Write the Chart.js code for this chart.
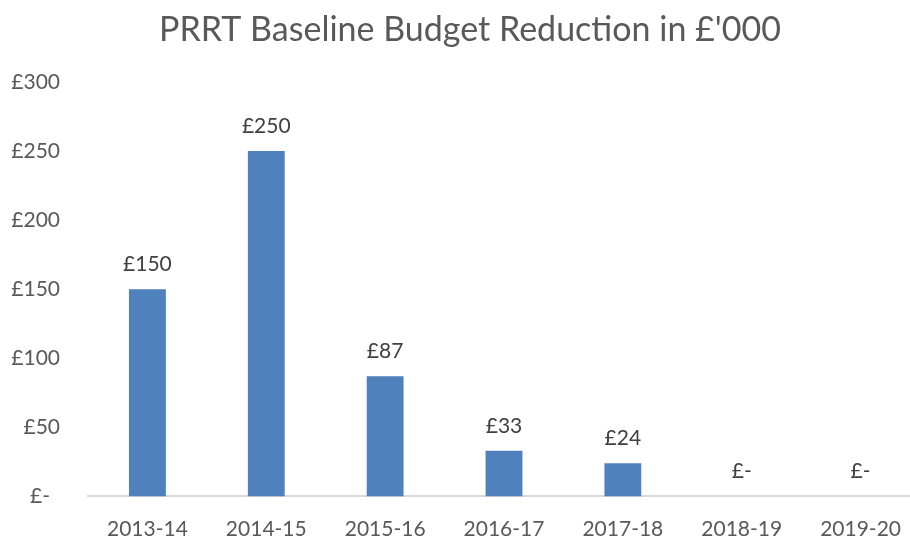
<!DOCTYPE html>
<html>
<head>
<meta charset="utf-8">
<script src="https://cdn.jsdelivr.net/npm/chart.js@4.4.0/dist/chart.umd.min.js"></script>
<style>
  html, body { margin: 0; padding: 0; background: #fff; overflow: hidden; }
  #wrap { width: 940px; height: 537px; }
</style>
</head>
<body>
<div id="wrap"><canvas id="chartContainer" width="940" height="537"></canvas></div>
<script>
const years = ['2013-14', '2014-15', '2015-16', '2016-17', '2017-18', '2018-19', '2019-20'];
const reduction = [150, 250, 87, 33, 24, 0, 0];
const yTicks = [0, 50, 100, 150, 200, 250, 300];

const chartTitle = "PRRT Baseline Budget Reduction in £'000";
const fontFamily = 'Lato, "Open Sans", sans-serif';

function pounds(v) {
    return v === 0 ? '£-' : '£' + v;
}

// title, value labels and the zero tick are drawn by hand
const extras = {
    id: 'extras',
    afterDatasetsDraw(chart) {
        const ctx = chart.ctx;
        ctx.save();
        ctx.fillStyle = '#595959';
        ctx.font = '34px ' + fontFamily;
        ctx.textAlign = 'center';
        ctx.textBaseline = 'alphabetic';
        ctx.fillText(chartTitle, 470, 41);

        // accounting style zero sits left of the other tick labels
        ctx.font = '21px ' + fontFamily;
        ctx.textAlign = 'right';
        ctx.textBaseline = 'middle';
        ctx.fillText('£-', 50, chart.scales.y.getPixelForValue(0));

        ctx.fillStyle = '#404040';
        ctx.textAlign = 'center';
        chart.getDatasetMeta(0).data.forEach((bar, i) => {
            ctx.fillText(pounds(reduction[i]), bar.x, bar.y - 25);
        });
        ctx.restore();
    }
};

const ctx = document.getElementById('chartContainer').getContext('2d');
new Chart(ctx, {
    type: 'bar',
    data: {
        labels: years,
        datasets: [{
            data: reduction,
            backgroundColor: '#4F81BD',
            categoryPercentage: 1,
            barPercentage: 0.31
        }]
    },
    options: {
        responsive: false,
        animation: false,
        layout: { padding: { top: 82, right: 20, left: 0, bottom: 0 } },
        plugins: {
            legend: { display: false },
            title: { display: false },
            tooltip: { enabled: false }
        },
        scales: {
            x: {
                grid: { display: false, drawTicks: false },
                border: { display: true, color: '#D9D9D9', width: 2 },
                ticks: { color: '#595959', font: { family: fontFamily, size: 21 }, padding: 20 },
                afterFit(scale) { scale.height = 40; }
            },
            y: {
                min: 0,
                max: 300,
                grid: { display: false, drawTicks: false },
                border: { display: false },
                afterBuildTicks(scale) { scale.ticks = yTicks.map(v => ({ value: v })); },
                ticks: {
                    color: '#595959',
                    font: { family: fontFamily, size: 21 },
                    padding: 28,
                    callback: v => v === 0 ? '' : '£' + v
                },
                afterFit(scale) { scale.width = 88; }
            }
        }
    },
    plugins: [extras]
});
</script>
</body>
</html>
